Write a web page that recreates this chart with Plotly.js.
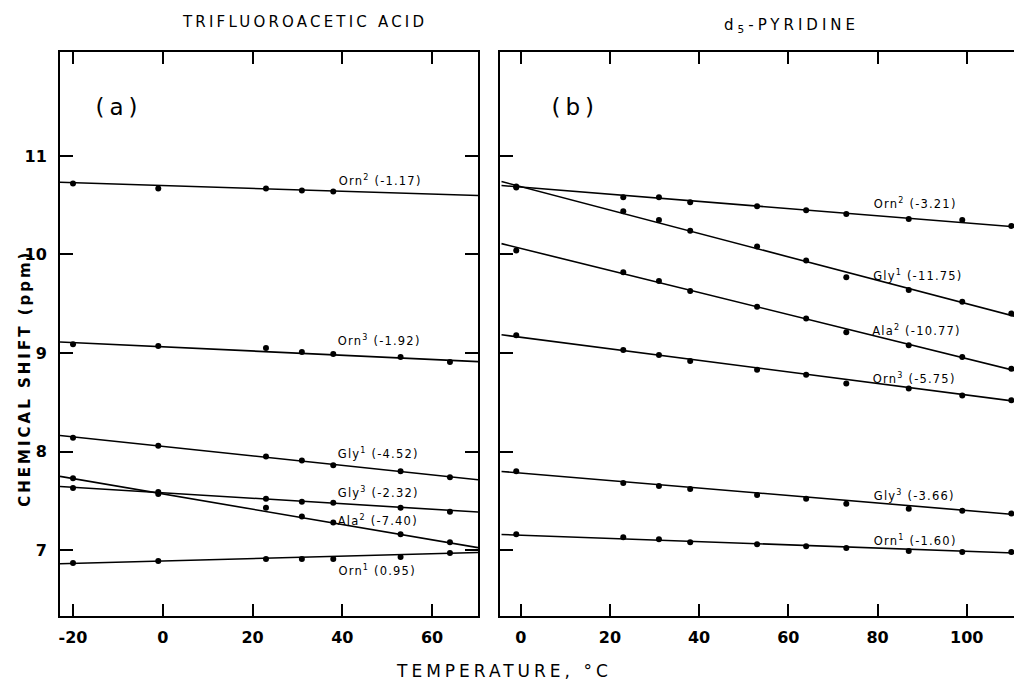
<!DOCTYPE html>
<html><head><meta charset="utf-8">
<script src="https://cdn.plot.ly/plotly-3.0.1.min.js"></script>
<style>
html,body{margin:0;padding:0;background:#fff;}
#chart{width:1014px;height:682px;}
.annotation text{letter-spacing:1.2px;}
.annotation[data-index="0"] text{letter-spacing:3.2px;}
.annotation[data-index="1"] text{letter-spacing:4px;}
.annotation[data-index="2"] text{letter-spacing:5px;}
.annotation[data-index="3"] text{letter-spacing:5px;}
.annotation[data-index="4"] text{letter-spacing:4px;}
.annotation[data-index="5"] text{letter-spacing:3px;}
</style>
</head><body><div id="chart"></div>
<script>
// ---------- DATA ----------
// Panel (a): trifluoroacetic acid
const tempA      = [-20, -1, 23, 31, 38, 53, 64];
const tempOrn2A  = [-20, -1, 23, 31, 38];
const orn2A = [10.72, 10.67, 10.67, 10.65, 10.64];
const orn3A = [9.09, 9.07, 9.05, 9.01, 8.99, 8.96, 8.91];
const gly1A = [8.14, 8.06, 7.95, 7.91, 7.86, 7.80, 7.74];
const gly3A = [7.63, 7.57, 7.52, 7.49, 7.48, 7.43, 7.39];
const ala2A = [7.73, 7.59, 7.43, 7.34, 7.28, 7.16, 7.08];
const orn1A = [6.87, 6.89, 6.91, 6.91, 6.91, 6.93, 6.97];
// fitted lines (end points)
const fitXA    = [-22.9, 70.25];
const fitOrn2A = [10.733, 10.598];
const fitOrn3A = [9.112, 8.913];
const fitGly1A = [8.163, 7.714];
const fitGly3A = [7.646, 7.386];
const fitAla2A = [7.748, 7.025];
const fitOrn1A = [6.862, 6.975];
const labelsA = ['Orn<sup>2</sup> (-1.17)', 'Orn<sup>3</sup> (-1.92)', 'Gly<sup>1</sup> (-4.52)',
                 'Gly<sup>3</sup> (-2.32)', 'Ala<sup>2</sup> (-7.40)', 'Orn<sup>1</sup> (0.95)'];

// Panel (b): d5-pyridine
const tempB = [-1, 23, 31, 38, 53, 64, 73, 87, 99, 110];
const orn2B = [10.69, 10.58, 10.58, 10.53, 10.49, 10.45, 10.41, 10.36, 10.35, 10.29];
const gly1B = [10.68, 10.44, 10.35, 10.24, 10.08, 9.94, 9.77, 9.64, 9.52, 9.40];
const ala2B = [10.04, 9.82, 9.73, 9.63, 9.47, 9.35, 9.21, 9.08, 8.96, 8.84];
const orn3B = [9.18, 9.03, 8.98, 8.92, 8.83, 8.78, 8.69, 8.64, 8.57, 8.52];
const gly3B = [7.80, 7.68, 7.65, 7.62, 7.56, 7.52, 7.47, 7.42, 7.40, 7.37];
const orn1B = [7.16, 7.13, 7.11, 7.08, 7.06, 7.04, 7.02, 6.99, 6.98, 6.98];
const fitXB    = [-4.3, 111];
const fitOrn2B = [10.70, 10.28];
const fitGly1B = [10.74, 9.37];
const fitAla2B = [10.11, 8.82];
const fitOrn3B = [9.185, 8.51];
const fitGly3B = [7.798, 7.36];
const fitOrn1B = [7.158, 6.97];
const labelsB = ['Orn<sup>2</sup> (-3.21)', 'Gly<sup>1</sup> (-11.75)', 'Ala<sup>2</sup> (-10.77)',
                 'Orn<sup>3</sup> (-5.75)', 'Gly<sup>3</sup> (-3.66)', 'Orn<sup>1</sup> (-1.60)'];

const tickValsA = [-20, 0, 20, 40, 60];
const tickTextA = ['-20', '0', '20', '40', '60'];
const tickValsB = [0, 20, 40, 60, 80, 100];
const tickTextB = ['0', '20', '40', '60', '80', '100'];
const tickValsY = [7, 8, 9, 10, 11];
const tickTextY = ['7', '8', '9', '10', '11'];

// ---------- BUILD ----------
const FONT = 'DejaVu Sans, Liberation Sans, sans-serif';
const traces = [];
function addSeries(xs, ys, fx, fy, xa, ya) {
  traces.push({x: fx, y: fy, xaxis: xa, yaxis: ya, mode: 'lines', type: 'scatter',
               line: {color: '#000', width: 1.6}, hoverinfo: 'skip', showlegend: false});
  traces.push({x: xs, y: ys, xaxis: xa, yaxis: ya, mode: 'markers', type: 'scatter',
               marker: {color: '#000', size: 6}, cliponaxis: false, showlegend: false});
}
addSeries(tempOrn2A, orn2A, fitXA, fitOrn2A, 'x', 'y');
addSeries(tempA, orn3A, fitXA, fitOrn3A, 'x', 'y');
addSeries(tempA, gly1A, fitXA, fitGly1A, 'x', 'y');
addSeries(tempA, gly3A, fitXA, fitGly3A, 'x', 'y');
addSeries(tempA, ala2A, fitXA, fitAla2A, 'x', 'y');
addSeries(tempA, orn1A, fitXA, fitOrn1A, 'x', 'y');
addSeries(tempB, orn2B, fitXB, fitOrn2B, 'x2', 'y2');
addSeries(tempB, gly1B, fitXB, fitGly1B, 'x2', 'y2');
addSeries(tempB, ala2B, fitXB, fitAla2B, 'x2', 'y2');
addSeries(tempB, orn3B, fitXB, fitOrn3B, 'x2', 'y2');
addSeries(tempB, gly3B, fitXB, fitGly3B, 'x2', 'y2');
addSeries(tempB, orn1B, fitXB, fitOrn1B, 'x2', 'y2');

// plot area in pixels: x 60..1014, y 52..616.5
const L = 60, R = 1014, T = 52, B = 616.5;
const px = v => (v - L) / (R - L);
const py = v => (B - v) / (B - T);

const annotations = [
  {text: 'TRIFLUOROACETIC ACID', x: px(304), y: py(22), font: {size: 15}},
  {text: 'd<sub>5</sub>-PYRIDINE', x: px(791), y: py(25), font: {size: 15}},
  {text: '(a)', x: px(119), y: py(107), font: {size: 23}},
  {text: '(b)', x: px(575), y: py(107), font: {size: 23}},
  {text: 'TEMPERATURE, °C', x: px(504), y: py(672), font: {size: 17}},
  {text: 'CHEMICAL SHIFT (ppm)', x: px(25), y: py(379), textangle: -90,
   font: {size: 15, weight: 'bold'}}
].map(a => Object.assign({xref: 'paper', yref: 'paper', showarrow: false,
                          xanchor: 'center', yanchor: 'middle'}, a));

const posA = [[40.4, 10.75], [40.2, 9.13], [40.2, 7.98], [40.2, 7.585], [40.2, 7.298], [40.2, 6.794]];
const posB = [[80.3, 10.513], [80.3, 9.786], [80.1, 9.225], [80.1, 8.738], [80.3, 7.554], [80.3, 7.098]];
labelsA.forEach((t, i) => annotations.push({text: t, x: posA[i][0], y: posA[i][1], xref: 'x', yref: 'y',
  showarrow: false, xanchor: 'left', yanchor: 'middle', font: {size: 11.5}}));
labelsB.forEach((t, i) => annotations.push({text: t, x: posB[i][0], y: posB[i][1], xref: 'x2', yref: 'y2',
  showarrow: false, xanchor: 'left', yanchor: 'middle', font: {size: 11.5}}));

const axisCommon = {showline: true, linecolor: '#000', linewidth: 2, ticks: 'inside',
  tickcolor: '#000', tickwidth: 2, ticklen: 12, showgrid: false, zeroline: false,
  tickfont: {size: 16, color: '#000', family: FONT, weight: 'bold'}, tickmode: 'array'};
const yRange = [6.331, 12.055];

const layout = {
  width: 1014, height: 682,
  margin: {l: L, r: 0, t: T, b: 682 - B, pad: 0},
  paper_bgcolor: '#fff', plot_bgcolor: '#fff',
  font: {family: FONT, color: '#000'},
  showlegend: false,
  xaxis: Object.assign({}, axisCommon, {domain: [0, px(478)], range: [-22.9, 70.25],
    tickvals: tickValsA, ticktext: tickTextA, mirror: 'ticks', anchor: 'y', ticklabelstandoff: 6}),
  xaxis2: Object.assign({}, axisCommon, {domain: [px(500), 1], range: [-4.64, 110.6],
    tickvals: tickValsB, ticktext: tickTextB, mirror: 'ticks', anchor: 'y2', ticklabelstandoff: 6}),
  yaxis: Object.assign({}, axisCommon, {range: yRange, tickvals: tickValsY, ticktext: tickTextY,
    mirror: 'ticks', anchor: 'x', ticklen: 13, ticklabelstandoff: 8}),
  yaxis2: Object.assign({}, axisCommon, {range: yRange, tickvals: tickValsY, ticktext: tickTextY,
    showticklabels: false, mirror: false, anchor: 'x2', ticklen: 13}),
  annotations: annotations
};

Plotly.newPlot('chart', traces, layout, {displayModeBar: false, staticPlot: true});
</script></body></html>
